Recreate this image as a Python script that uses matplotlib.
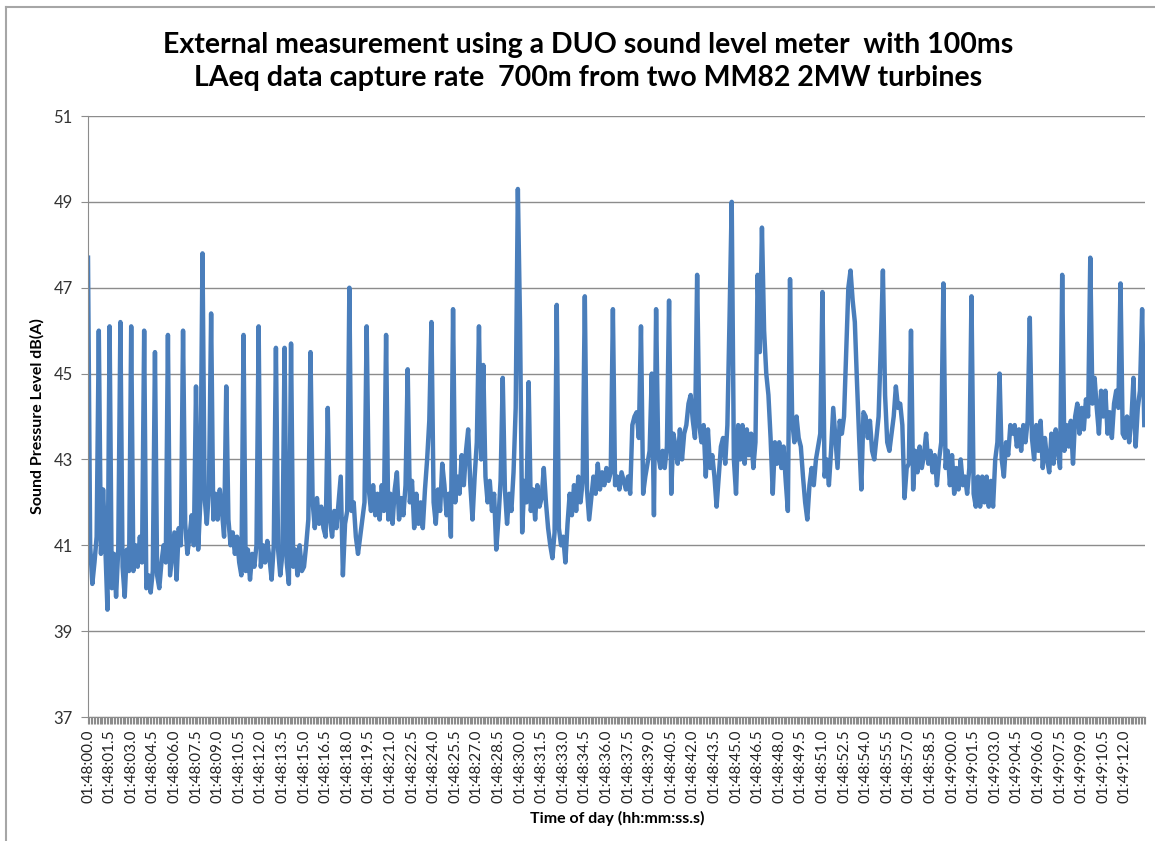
import numpy as np
import matplotlib
matplotlib.use('Agg')
import matplotlib.pyplot as plt
from matplotlib.ticker import MultipleLocator
from matplotlib.lines import Line2D

# LAeq readings (dB(A)), one value every 0.15 s from 01:48:00.0
# each row covers one 1.5 s label interval
step = 0.15
spl = [
    47.7, 41.0, 40.1, 40.6, 41.2, 46.0, 40.8, 42.3, 41.0, 39.5,
    46.1, 40.0, 40.8, 39.8, 40.9, 46.2, 40.5, 39.8, 40.9, 40.4,
    46.1, 40.4, 41.0, 40.5, 41.2, 40.6, 46.0, 40.0, 40.3, 39.9,
    40.4, 45.5, 40.3, 40.0, 40.6, 41.0, 40.6, 45.9, 40.3, 40.8,
    41.3, 40.2, 41.4, 41.0, 46.0, 41.5, 40.8, 41.2, 41.7, 41.0,
    44.7, 40.9, 42.0, 47.8, 42.1, 41.5, 42.3, 46.4, 41.6, 42.2,
    41.6, 42.3, 41.8, 41.2, 44.7, 41.6, 41.0, 41.3, 40.8, 41.2,
    40.6, 40.3, 45.9, 40.4, 40.9, 40.2, 40.8, 40.5, 41.0, 46.1,
    40.5, 41.0, 40.6, 41.1, 40.7, 40.2, 41.0, 45.6, 40.9, 40.3,
    40.8, 45.6, 40.6, 40.1, 45.7, 40.5, 40.9, 40.3, 41.0, 40.4,
    40.5, 41.0, 41.6, 45.5, 42.0, 41.4, 42.1, 41.5, 41.9, 41.4,
    41.2, 44.2, 41.6, 41.2, 41.8, 41.4, 42.0, 42.6, 40.3, 41.5,
    41.8, 47.0, 41.8, 42.0, 41.2, 40.8, 41.2, 41.6, 42.0, 46.1,
    42.3, 41.8, 42.4, 41.7, 42.2, 41.6, 42.4, 41.8, 45.9, 41.6,
    42.2, 41.5, 42.3, 42.7, 41.6, 42.1, 41.7, 42.4, 45.1, 42.0,
    42.5, 41.4, 42.2, 41.5, 42.0, 41.4, 42.3, 43.0, 43.9, 46.2,
    42.0, 41.5, 42.3, 41.8, 42.9, 42.4, 41.7, 42.2, 41.2, 46.5,
    42.0, 42.6, 42.2, 43.1, 42.4, 43.2, 43.7, 42.4, 41.6, 42.6,
    43.4, 46.1, 43.0, 45.2, 42.6, 42.0, 42.5, 41.8, 42.2, 40.9,
    41.6, 42.5, 44.9, 42.3, 41.5, 42.2, 41.8, 42.7, 44.2, 49.3,
    46.2, 41.3, 42.5, 42.0, 44.8, 41.8, 42.3, 41.6, 42.4, 41.9,
    42.1, 42.8, 42.0, 41.4, 41.0, 40.7, 41.3, 46.6, 41.4, 41.0,
    41.2, 40.6, 41.5, 42.2, 41.7, 42.4, 41.8, 42.6, 42.0, 42.5,
    46.8, 42.3, 41.6, 42.1, 42.6, 42.2, 42.9, 42.3, 42.7, 42.4,
    42.8, 42.5, 42.7, 46.5, 42.4, 42.6, 42.3, 42.7, 42.5, 42.3,
    42.6, 42.2, 43.8, 44.0, 44.1, 43.5, 46.1, 42.2, 42.6, 42.9,
    43.2, 45.0, 41.7, 46.5, 43.1, 42.8, 43.2, 42.8, 43.3, 46.7,
    42.2, 43.6, 43.3, 42.9, 43.7, 43.0, 43.6, 43.8, 44.3, 44.5,
    43.9, 43.5, 47.3, 43.8, 43.4, 43.8, 42.6, 43.7, 42.8, 43.1,
    42.6, 41.9, 42.6, 43.3, 43.5, 42.9, 43.8, 46.3, 49.0, 43.0,
    42.2, 43.8, 43.0, 43.8, 42.9, 43.7, 43.1, 43.6, 42.8, 43.4,
    47.3, 45.5, 48.4, 46.0, 45.0, 44.5, 43.5, 42.2, 43.4, 42.9,
    43.4, 42.8, 43.3, 42.5, 41.8, 47.2, 43.9, 43.4, 44.0, 43.5,
    43.3, 42.6, 42.0, 41.6, 42.4, 42.8, 42.4, 43.0, 43.3, 43.6,
    46.9, 42.6, 43.0, 42.4, 43.2, 44.2, 43.5, 42.8, 43.9, 43.6,
    44.0, 45.5, 47.0, 47.4, 46.7, 46.2, 44.8, 43.5, 42.3, 44.1,
    44.0, 43.5, 43.9, 43.2, 43.0, 43.5, 44.0, 45.6, 47.4, 44.5,
    43.4, 43.2, 43.6, 44.0, 44.7, 44.2, 44.3, 43.8, 42.1, 42.8,
    42.9, 46.0, 42.3, 43.2, 42.7, 43.3, 42.8, 43.1, 43.6, 42.9,
    43.2, 42.7, 43.1, 42.4, 43.0, 43.4, 47.1, 42.8, 43.2, 42.4,
    43.1, 42.2, 42.8, 42.3, 43.0, 42.4, 42.6, 42.2, 42.8, 46.8,
    42.2, 41.9, 42.6, 41.9, 42.6, 42.0, 42.6, 41.9, 42.5, 41.9,
    43.0, 43.4, 45.0, 43.0, 42.6, 43.4, 43.1, 43.8, 43.6, 43.8,
    43.3, 43.7, 43.2, 43.8, 43.4, 43.9, 46.3, 43.5, 43.0, 43.8,
    43.2, 43.9, 42.8, 43.5, 43.0, 42.7, 43.6, 42.9, 43.7, 43.2,
    42.8, 47.3, 43.2, 43.8, 43.3, 43.9, 42.9, 44.0, 44.3, 43.6,
    44.2, 43.7, 44.4, 44.0, 47.7, 44.3, 44.9, 44.2, 43.6, 44.6,
    44.0, 44.6, 43.6, 44.1, 43.5, 44.3, 44.6, 44.2, 47.1, 43.6,
    43.5, 44.0, 43.4, 43.9, 44.9, 43.3, 44.2, 44.6, 46.5, 43.8,
]

# category labels every 1.5 s (seconds after 01:48:00.0)
tick_secs = np.arange(0, 72.01, 1.5)
tick_labels = ['01:%02d:%04.1f' % (48 + int(s // 60), s % 60) for s in tick_secs]
y_ticks = [37, 39, 41, 43, 45, 47, 49, 51]

title_1 = 'External measurement using a DUO sound level meter  with 100ms'
title_2 = 'LAeq data capture rate  700m from two MM82 2MW turbines'

plt.rcParams['font.family'] = ['Lato', 'DejaVu Sans']

W, H = 1155, 841
fig = plt.figure(figsize=(W / 100, H / 100), dpi=100)
ax = fig.add_axes([88 / W, 1 - 717 / H, (1145 - 88) / W, (717 - 116) / H])

t = np.arange(len(spl)) * step
ax.plot(t, spl, color='#4A7EBB', lw=3.2, solid_joinstyle='round')

ax.set_xlim(0, 73.4)
ax.set_ylim(37, 51)
ax.set_yticks(y_ticks)
ax.set_xticks(tick_secs)
ax.set_xticklabels(tick_labels, rotation=90, fontsize=11, color='#222222')
ax.xaxis.set_minor_locator(MultipleLocator(0.1))
ax.tick_params(axis='x', which='both', length=5, color='#8c8c8c', width=0.8, pad=4)
ax.tick_params(axis='y', length=5, color='#8c8c8c', labelsize=12, labelcolor='#333333', pad=6)

ax.grid(axis='y', color='#8c8c8c', lw=1)
ax.set_axisbelow(True)
for s in ['top', 'right']:
    ax.spines[s].set_visible(False)
for s in ['left', 'bottom']:
    ax.spines[s].set_color('#8c8c8c')

ax.set_ylabel('Sound Pressure Level dB(A)', fontsize=11.5, fontweight='bold')
ax.yaxis.set_label_coords(-43 / (1145 - 88), 0.5)
fig.text(617 / W, 1 - 818 / H, 'Time of day (hh:mm:ss.s)', ha='center', va='center',
         fontsize=11.5, fontweight='bold')

fig.text(588 / W, 1 - 45 / H, title_1, ha='center', va='center', fontsize=20.5,
         fontweight='bold')
fig.text(588 / W, 1 - 78 / H, title_2, ha='center', va='center', fontsize=20.5,
         fontweight='bold')

# chart area border
fig.add_artist(Line2D([6 / W, 6 / W], [0, 1 - 7 / H], color='#a6a6a6', lw=1.5))
fig.add_artist(Line2D([6 / W, 1], [1 - 7 / H, 1 - 7 / H], color='#a6a6a6', lw=1.5))

plt.savefig('out.png', dpi=100)
plt.close()
